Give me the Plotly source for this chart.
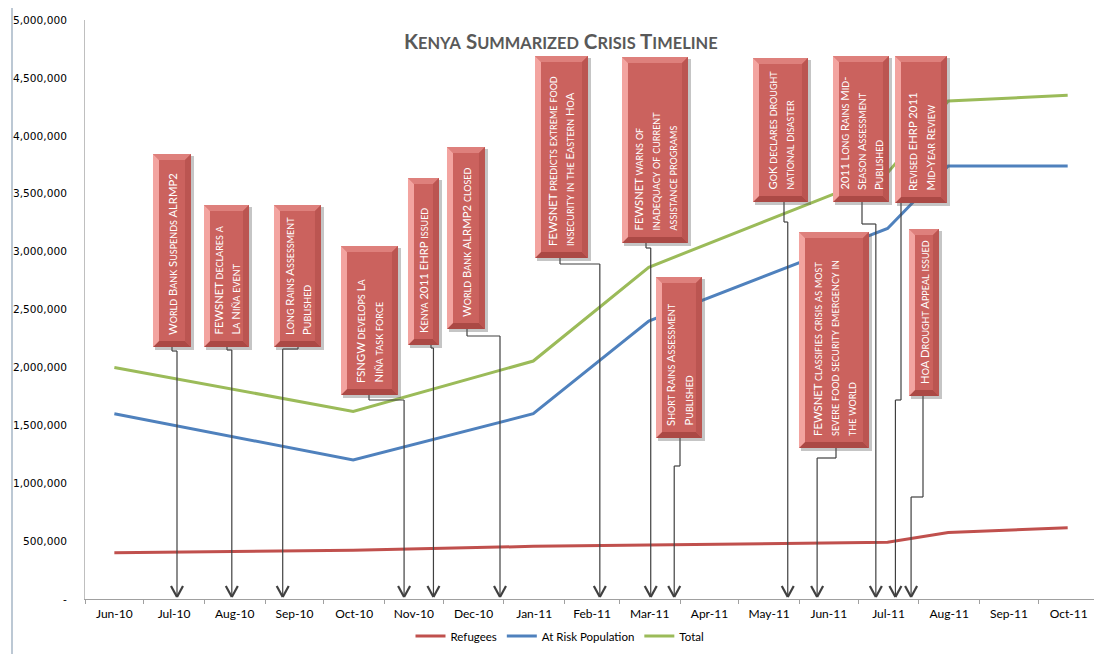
import datetime as dt
import plotly.graph_objects as go

# ---------------- data ----------------
series_dates = ["2010-06-16", "2010-10-16", "2011-01-16", "2011-03-16",
                "2011-07-16", "2011-08-16", "2011-10-16"]
refugees = [400000, 420000, 455000, 468000, 490000, 575000, 615000]
at_risk = [1600000, 1200000, 1600000, 2400000, 3200000, 3740000, 3740000]
total = [2000000, 1620000, 2055000, 2865000, 3680000, 4300000, 4350000]

y_tick_values = [0, 500000, 1000000, 1500000, 2000000, 2500000, 3000000,
                 3500000, 4000000, 4500000, 5000000]
y_tick_labels = ["-", "500,000", "1,000,000", "1,500,000", "2,000,000", "2,500,000",
                 "3,000,000", "3,500,000", "4,000,000", "4,500,000", "5,000,000"]

event_dates = ["2010-07-18", "2010-08-15", "2010-09-10", "2010-11-11", "2010-11-26",
               "2010-12-30", "2011-02-19", "2011-03-17", "2011-03-29", "2011-05-26",
               "2011-06-10", "2011-07-10", "2011-07-20", "2011-07-28"]
event_labels = [
    ["World Bank Suspends ALRMP2"],
    ["FEWSNET declares a", "La Niña event"],
    ["Long Rains Assessment", "Published"],
    ["FSNGW develops La", "Niña task force"],
    ["Kenya 2011 EHRP issued"],
    ["World Bank ALRMP2 closed"],
    ["FEWSNET predicts extreme food", "insecurity in the Eastern HoA"],
    ["FEWSNET warns of", "inadequacy of current", "assistance programs"],
    ["Short Rains Assessment", "Published"],
    ["GoK declares drought", "national disaster"],
    ["FEWSNET classifies crisis as most", "severe food security emergency in", "the world"],
    ["2011 Long Rains Mid-", "Season Assessment", "Published"],
    ["Revised EHRP 2011", "Mid-Year Review"],
    ["HoA Drought Appeal issued"],
]
title_text = "Kenya Summarized Crisis Timeline"

# ---------------- layout (page-pixel geometry of callout boxes) ----------------
# left, right, top, bottom, connector x, connector elbow y
box_geom = [
    (153, 191, 154, 347, 172, 351),
    (204, 249, 205, 347, 227, 350),
    (274, 321, 205, 347, 298, 349),
    (341, 398, 246, 395, 369, 400),
    (408, 439, 178, 345, 431, 348),
    (447, 485, 147, 329, 467, 336),
    (535, 588, 56, 258, 560, 264),
    (622, 688, 57, 243, 646, 248),
    (656, 702, 277, 438, 680, 466),
    (753, 808, 58, 202, 784, 222),
    (799, 869, 232, 448, 836, 458),
    (833, 889, 56, 202, 862, 224),
    (895, 947, 56, 203, 901, 400),
    (909, 939, 229, 396, 923, 497),
]

OFF = 8  # page body margin
W, H = 1102 - OFF, 654 - OFF
PL, PR, PT, PB = 85, 1099, 20, 599  # plot area in page pixels
D0, D1 = dt.datetime(2010, 6, 1), dt.datetime(2011, 11, 1)


def pxx(px):
    return (px - PL) / (PR - PL)


def pxy(py):
    return (PB - py) / (PB - PT)


def px_date(px):
    d = D0 + (D1 - D0) * ((px - PL) / (PR - PL))
    return d.strftime("%Y-%m-%d %H:%M:%S")


def date_shift(dstr, dpx):
    d = dt.datetime.strptime(dstr, "%Y-%m-%d")
    d = d + (D1 - D0) * (dpx / (PR - PL))
    return d.strftime("%Y-%m-%d %H:%M:%S")


def small_caps(text, size, ratio=0.8):
    out, buf = [], ""
    for c in text:
        if c.islower():
            buf += c.upper()
        else:
            if buf:
                out.append(f'<span style="font-size:{size * ratio:.1f}px">{buf}</span>')
                buf = ""
            out.append(c)
    if buf:
        out.append(f'<span style="font-size:{size * ratio:.1f}px">{buf}</span>')
    return "".join(out)


RED, BLUE, GREEN = "#c0504d", "#4f81bd", "#9bbb59"

fig = go.Figure()
fig.add_trace(go.Scatter(x=series_dates, y=refugees, name="Refugees", mode="lines",
                         line=dict(color=RED, width=3)))
fig.add_trace(go.Scatter(x=series_dates, y=at_risk, name="At Risk Population", mode="lines",
                         line=dict(color=BLUE, width=3)))
fig.add_trace(go.Scatter(x=series_dates, y=total, name="Total", mode="lines",
                         line=dict(color=GREEN, width=3)))

shapes = []
annotations = []
LINE_C = "#404040"


def poly(pts, color):
    path = "M " + " L ".join(f"{pxx(x):.5f},{pxy(y):.5f}" for x, y in pts) + " Z"
    return dict(type="path", xref="paper", yref="paper", path=path,
                fillcolor=color, line=dict(width=0), layer="above")


BOX_FONT = 11.3
for (L, R, T, B, cx, jy), d, lines in zip(box_geom, event_dates, event_labels):
    # connector
    cdate = px_date(cx)
    shapes.append(dict(type="line", xref="x", yref="paper", x0=cdate, x1=cdate,
                       y0=pxy(B), y1=pxy(jy), line=dict(color=LINE_C, width=1.2)))
    shapes.append(dict(type="line", xref="x", yref="paper", x0=cdate, x1=d,
                       y0=pxy(jy), y1=pxy(jy), line=dict(color=LINE_C, width=1.2)))
    shapes.append(dict(type="line", xref="x", yref="paper", x0=d, x1=d,
                       y0=pxy(jy), y1=pxy(597), line=dict(color=LINE_C, width=1.2)))
    for s in (-6, 6):
        shapes.append(dict(type="line", xref="x", yref="paper", x0=date_shift(d, s), x1=d,
                           y0=pxy(586), y1=pxy(597), line=dict(color=LINE_C, width=2.2)))
    # box with bevel
    b = 6
    shapes.append(poly([(L + 2, T + 2), (R + 3, T + 2), (R + 3, B + 3), (L + 2, B + 3)],
                       "rgba(90,90,90,0.35)"))
    shapes.append(poly([(L, T), (R, T), (R, B), (L, B)], "#cb625e"))
    shapes.append(poly([(L, T), (R, T), (R - b, T + b), (L + b, T + b)], "#de807c"))
    shapes.append(poly([(L, B), (R, B), (R - b, B - b), (L + b, B - b)], "#ab4945"))
    shapes.append(poly([(L, T), (L + b, T + b), (L + b, B - b), (L, B)], "#f3a4a0"))
    shapes.append(poly([(R, T), (R - b, T + b), (R - b, B - b), (R, B)], "#bb5551"))
    # text lines (rotated)
    n = len(lines)
    ccx = (L + R) / 2
    for i, t in enumerate(lines):
        x = ccx + (i - (n - 1) / 2) * 17
        annotations.append(dict(
            xref="paper", yref="paper", x=pxx(x), y=pxy(B - 10),
            xanchor="center", yanchor="bottom", text=small_caps(t, BOX_FONT),
            showarrow=False, textangle=-90, align="left",
            font=dict(family="Lato", size=BOX_FONT, color="white")))

TITLE_FONT = 20.5
annotations.append(dict(
    xref="paper", yref="paper", x=pxx(561), y=pxy(41), xanchor="center", yanchor="middle",
    text="<b>" + small_caps(title_text, TITLE_FONT) + "</b>", showarrow=False,
    font=dict(family="Lato", size=TITLE_FONT, color="#595959")))

# outer chart-area border on the left
shapes.append(dict(type="line", xref="paper", yref="paper", x0=pxx(12), x1=pxx(12),
                   y0=pxy(OFF), y1=pxy(654), line=dict(color="#8fa3b8", width=1.2)))

fig.update_layout(
    width=W, height=H,
    margin=dict(l=PL - OFF, r=(1102 - PR), t=PT - OFF, b=654 - PB),
    plot_bgcolor="white", paper_bgcolor="white",
    shapes=shapes, annotations=annotations,
    legend=dict(orientation="h", x=pxx(560), xanchor="center", y=pxy(636), yanchor="middle",
                font=dict(family="Lato", size=11.5, color="#000000"),
                itemwidth=30, tracegroupgap=0),
    xaxis=dict(type="date", range=[D0, D1], dtick="M1", tick0="2010-06-01",
               ticklabelmode="period", tickformat="%b-%y", ticks="outside", ticklen=4,
               tickcolor="#a0a0a0", showline=True, linecolor="#a0a0a0", linewidth=1,
               showgrid=False, zeroline=False,
               tickfont=dict(family="Lato", size=12, color="#000000")),
    yaxis=dict(range=[0, 5000000], tickvals=y_tick_values, ticktext=y_tick_labels,
               showline=True, linecolor="#bfbfbf", linewidth=1, showgrid=False,
               zeroline=False, ticks="", ticklabelstandoff=15,
               tickfont=dict(family="DejaVu Sans", size=10.6, color="#000000")),
)

fig.write_html("out.html")
